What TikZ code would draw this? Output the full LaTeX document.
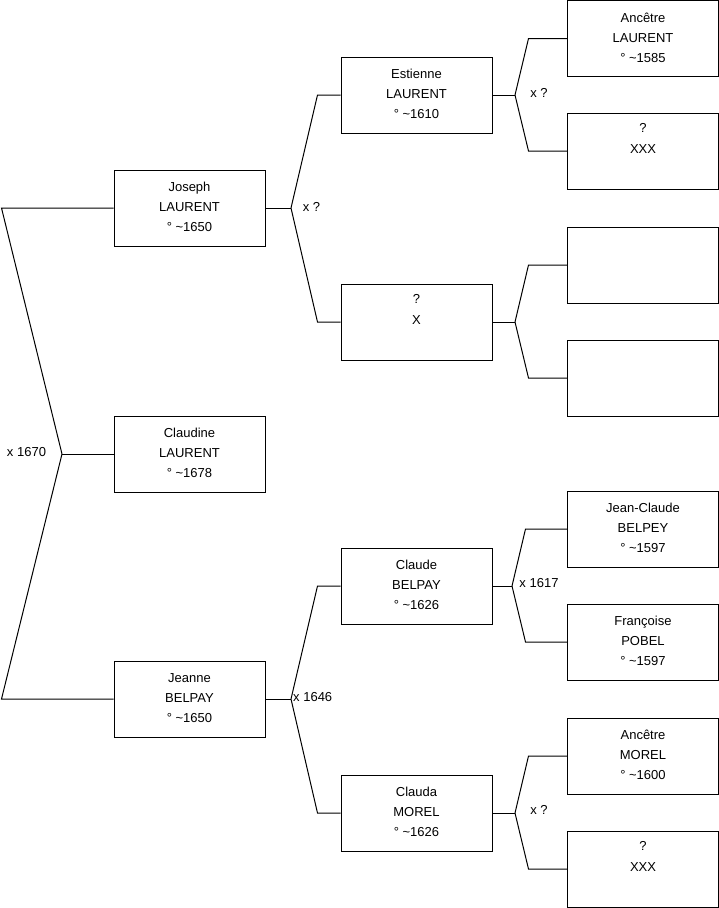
\documentclass[tikz,border=0pt]{standalone}
\usepackage{fontspec}
\setmainfont{Liberation Sans}
\begin{document}
\begin{tikzpicture}[x=1pt,y=-1pt,
  person/.style={draw, line width=1pt, minimum width=151pt, minimum height=76pt, inner sep=0pt},
  ptext/.style={inner sep=0pt, align=center, yshift=1pt, font=\fontsize{13}{20}\selectfont},
  ptwo/.style={inner sep=0pt, align=center, yshift=-1pt, font=\fontsize{13}{20.5}\selectfont},
  link/.style={draw, line width=1pt},
  lbl/.style={inner sep=0pt, font=\fontsize{13}{15}\selectfont}]
\useasboundingbox (0,0) rectangle (719,908);
% generation 1
\node[person, label={[ptext]center:Joseph\\LAURENT\\° \textasciitilde1650}] (jos) at (189.5,208) {};
\node[person, label={[ptext]center:Claudine\\LAURENT\\° \textasciitilde1678}] (cld) at (189.5,454) {};
\node[person, label={[ptext]center:Jeanne\\BELPAY\\° \textasciitilde1650}] (jea) at (189.5,699) {};
% generation 2
\node[person, label={[ptext]center:Estienne\\LAURENT\\° \textasciitilde1610}] (est) at (416.5,95) {};
\node[person, label={[ptwo]center:?\\X\\\strut}] (qx) at (416.5,322) {};
\node[person, label={[ptext]center:Claude\\BELPAY\\° \textasciitilde1626}] (cla) at (416.5,586) {};
\node[person, label={[ptext]center:Clauda\\MOREL\\° \textasciitilde1626}] (clm) at (416.5,813) {};
% generation 3
\node[person, label={[ptext]center:Ancêtre\\LAURENT\\° \textasciitilde1585}] (anl) at (643,38.5) {};
\node[person, label={[ptwo]center:?\\XXX\\\strut}] (qxa) at (643,151) {};
\node[person] (e1) at (643,265) {};
\node[person] (e2) at (643,378) {};
\node[person, label={[ptext]center:Jean-Claude\\BELPEY\\° \textasciitilde1597}] (jcb) at (643,529) {};
\node[person, label={[ptext]center:Françoise\\POBEL\\° \textasciitilde1597}] (fpo) at (643,642) {};
\node[person, label={[ptext]center:Ancêtre\\MOREL\\° \textasciitilde1600}] (anm) at (643,756) {};
\node[person, label={[ptwo]center:?\\XXX\\\strut}] (qxb) at (643,869) {};
% root union
\coordinate (r) at (62,454);
\draw[link] (cld.west) -- (r);
\draw[link] (jos.west) -- ++(-112,0) -- (r);
\draw[link] (jea.west) -- ++(-112,0) -- (r);
\node[lbl] (lr) at (26.5,452) {x 1670};
% Joseph union
\coordinate (ja) at (291,208);
\draw[link] (jos.east) -- (ja);
\draw[link] (est.west) -- ++(-23,0) -- (ja);
\draw[link] (qx.west) -- ++(-23,0) -- (ja);
\node[lbl] (la) at (311.5,207) {x ?};
% Jeanne union
\coordinate (jb) at (291,699);
\draw[link] (jea.east) -- (jb);
\draw[link] (cla.west) -- ++(-23,0) -- (jb);
\draw[link] (clm.west) -- ++(-23,0) -- (jb);
\node[lbl,anchor=west] (lb) at (293,697) {x 1646};
% Estienne union
\coordinate (jc) at (515,95);
\draw[link] (est.east) -- (jc);
\draw[link] (anl.west) -- ++(-38.5,0) -- (jc);
\draw[link] (qxa.west) -- ++(-38.5,0) -- (jc);
\node[lbl] (lc) at (539,93) {x ?};
% X union
\coordinate (jd) at (515,322);
\draw[link] (qx.east) -- (jd);
\draw[link] (e1.west) -- ++(-38.5,0) -- (jd);
\draw[link] (e2.west) -- ++(-38.5,0) -- (jd);
% Claude union
\coordinate (je) at (512,586);
\draw[link] (cla.east) -- (je);
\draw[link] (jcb.west) -- ++(-41.5,0) -- (je);
\draw[link] (fpo.west) -- ++(-41.5,0) -- (je);
\node[lbl] (le) at (539,583) {x 1617};
% Clauda union
\coordinate (jf) at (515,813);
\draw[link] (clm.east) -- (jf);
\draw[link] (anm.west) -- ++(-38.5,0) -- (jf);
\draw[link] (qxb.west) -- ++(-38.5,0) -- (jf);
\node[lbl] (lf) at (539,810) {x ?};
\end{tikzpicture}
\end{document}
